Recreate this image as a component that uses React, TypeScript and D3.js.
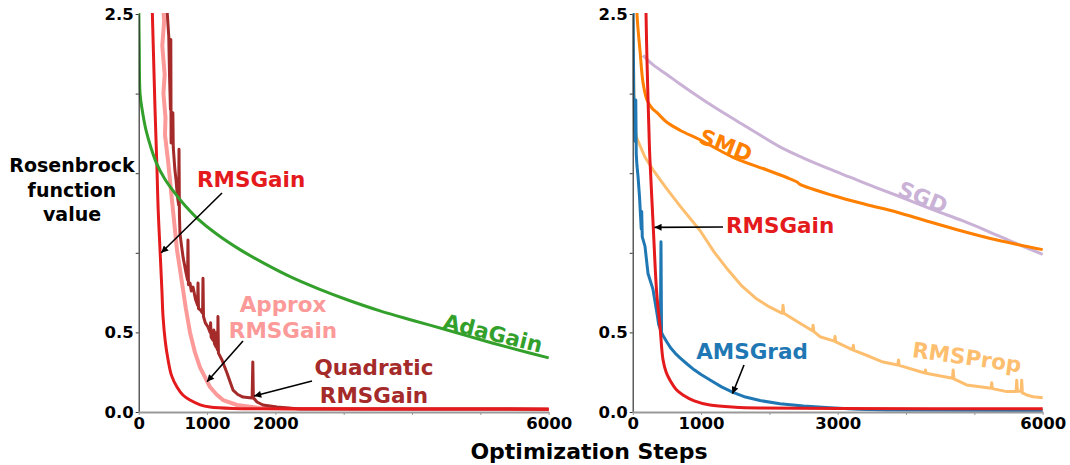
import React, { useEffect, useRef } from 'react';
import * as d3 from 'd3';

type Pt = [number, number];

// ---- Left panel: RMSGain variants vs AdaGain (step, Rosenbrock value) ----
const rmsGainLeft: Pt[] = [
  [160, 3.3], [200, 2.5], [239, 1.9], [268, 1.52], [285, 1.27], [312, 1.02], [340, 0.76],
  [356, 0.6], [390, 0.44], [429, 0.33], [480, 0.23], [560, 0.157], [650, 0.105], [751, 0.075],
  [900, 0.045], [1043, 0.031], [1380, 0.022], [2500, 0.02], [4000, 0.019], [6000, 0.018],
];

const approxRmsGain: Pt[] = [
  [300, 3.4], [340, 2.7], [372, 2.45], [345, 2.3], [380, 2.12], [362, 2.0], [392, 1.85],
  [385, 1.74], [429, 1.58], [487, 1.33], [560, 1.02], [634, 0.81], [690, 0.65], [751, 0.5],
  [820, 0.38], [897, 0.28], [1043, 0.157], [1140, 0.11], [1234, 0.075], [1439, 0.044],
  [1776, 0.025], [2215, 0.02], [6000, 0.018],
];

const quadraticRmsGain: Pt[] = [
  [390, 3.3], [415, 2.525], [440, 2.36], [452, 2.1], [465, 1.9], [470, 2.34], [474, 1.69],
  [488, 1.74], [500, 1.88], [506, 1.66], [530, 1.52], [546, 1.46], [565, 1.36], [585, 1.3],
  [590, 1.65], [596, 1.24], [604, 1.12], [625, 1.05], [650, 0.97], [690, 0.88], [715, 0.83],
  [721, 1.08], [728, 0.8], [751, 0.81], [770, 0.76], [795, 0.785], [830, 0.71], [862, 0.67],
  [868, 0.81], [875, 0.65], [905, 0.64], [935, 0.62], [941, 0.84], [948, 0.6], [975, 0.56],
  [1014, 0.534], [1045, 0.5], [1052, 0.56], [1060, 0.47], [1090, 0.45], [1100, 0.515],
  [1108, 0.43], [1130, 0.41], [1138, 0.5], [1145, 0.4], [1155, 0.39], [1160, 0.6], [1167, 0.37],
  [1219, 0.327], [1292, 0.245], [1380, 0.138], [1450, 0.11], [1527, 0.094], [1660, 0.088],
  [1670, 0.314], [1678, 0.09], [1731, 0.063], [1819, 0.044], [2024, 0.031], [2361, 0.019],
  [6000, 0.018],
];

const adaGain: Pt[] = [
  [0, 2.6], [8, 2.3], [20, 2.0], [50, 1.9], [107, 1.77], [180, 1.66], [263, 1.56], [380, 1.465],
  [502, 1.39], [680, 1.295], [849, 1.22], [1150, 1.115], [1482, 1.02], [1850, 0.93],
  [2240, 0.845], [2650, 0.77], [3050, 0.705], [3532, 0.635], [4015, 0.575], [4513, 0.515],
  [4995, 0.455], [5478, 0.398], [6000, 0.34],
];

// ---- Right panel: RMSGain vs baseline optimizers ----
const rmsGainRight: Pt[] = [
  [160, 3.3], [195, 2.5], [209, 2.21], [246, 1.65], [253, 1.58], [301, 1.16], [351, 0.75],
  [400, 0.535], [443, 0.33], [490, 0.25], [546, 0.2], [640, 0.14], [736, 0.107], [900, 0.07],
  [1131, 0.044], [1500, 0.03], [1863, 0.025], [3000, 0.022], [6000, 0.02],
];

const smd: Pt[] = [
  [30, 3.2], [63, 2.5], [107, 2.27], [151, 2.07], [209, 1.96], [280, 1.91], [356, 1.88],
  [500, 1.82], [692, 1.77], [985, 1.71], [1468, 1.6], [1965, 1.52], [2300, 1.465],
  [2405, 1.445], [2449, 1.43], [2932, 1.36], [3400, 1.305], [3869, 1.255], [4300, 1.2],
  [4747, 1.145], [5332, 1.08], [6000, 1.02],
];

const sgd: Pt[] = [
  [150, 2.24], [300, 2.18], [500, 2.12], [692, 2.06], [1175, 1.92], [1672, 1.79], [2155, 1.665],
  [2500, 1.595], [2887, 1.525], [3180, 1.475], [3500, 1.42], [3868, 1.36], [4400, 1.27],
  [4834, 1.2], [5200, 1.135], [5522, 1.075], [6000, 0.99],
];

const rmsProp: Pt[] = [
  [0, 2.9], [12, 2.2], [25, 1.78], [60, 1.72], [180, 1.6], [300, 1.52], [502, 1.4], [700, 1.29],
  [985, 1.14], [1200, 1.0], [1400, 0.89], [1600, 0.79], [1800, 0.715], [2000, 0.66],
  [2190, 0.62], [2200, 0.67], [2212, 0.62], [2400, 0.57], [2630, 0.51], [2640, 0.545],
  [2652, 0.505], [2741, 0.473], [2950, 0.445], [2961, 0.475], [2972, 0.44], [3220, 0.39],
  [3229, 0.42], [3238, 0.387], [3477, 0.347], [3646, 0.316], [3880, 0.295], [3890, 0.327],
  [3900, 0.293], [4212, 0.253], [4280, 0.245], [4285, 0.264], [4292, 0.243], [4680, 0.212],
  [4690, 0.264], [4700, 0.208], [4887, 0.17], [5082, 0.159], [5245, 0.149], [5254, 0.184],
  [5263, 0.147], [5474, 0.128], [5612, 0.128], [5620, 0.2], [5630, 0.13], [5685, 0.13],
  [5693, 0.2], [5702, 0.12], [5766, 0.107], [5859, 0.096], [6000, 0.09],
];

const amsGrad: Pt[] = [
  [0, 3.0], [8, 2.4], [15, 2.0], [25, 1.85], [35, 1.7], [45, 1.96], [52, 1.62], [62, 1.55],
  [78, 1.48], [100, 1.35], [125, 1.15], [132, 1.26], [140, 1.1], [180, 1.04], [224, 0.87],
  [297, 0.77], [355, 0.62], [380, 0.55], [405, 0.52], [414, 1.07], [422, 0.5], [443, 0.48],
  [500, 0.44], [560, 0.4], [620, 0.37], [692, 0.34], [800, 0.3], [900, 0.265], [1000, 0.235],
  [1175, 0.19], [1300, 0.158], [1468, 0.123], [1650, 0.094], [1863, 0.072], [2155, 0.052],
  [2500, 0.037], [2887, 0.026], [3300, 0.018], [3722, 0.013], [6000, 0.009],
];

// ---- Axis ticks ----
const yTickValues = [0, 0.5, 1, 1.5, 2, 2.5];
const yTickLabels = [0, 0.5, 2.5];
const xTickValues = [0, 1000, 2000, 3000, 4000, 5000, 6000];
const xTickLabelsLeft = [0, 1000, 2000, 6000];
const xTickLabelsRight = [0, 1000, 3000, 6000];

const FONT = '"DejaVu Sans", Verdana, sans-serif';

const C = {
  rmsGain: '#e41a1c',
  approx: '#fb9a99',
  quadratic: '#a52a2a',
  adaGain: '#33a02c',
  smd: '#ff7f00',
  sgd: '#cab2d6',
  rmsProp: '#fdbf6f',
  amsGrad: '#1f78b4',
};

const y = d3.scaleLinear().domain([0, 2.5]).range([412, 14]);
const xLeft = d3.scaleLinear().domain([0, 6000]).range([138.7, 548.7]);
const xRight = d3.scaleLinear().domain([0, 6000]).range([632.7, 1042.7]);

function Axes({ x, labels }: { x: d3.ScaleLinear<number, number>; labels: number[] }) {
  const ref = useRef<SVGGElement>(null);
  useEffect(() => {
    const g = d3.select(ref.current);
    g.selectAll('*').remove();
    const left = g
      .append('g')
      .attr('transform', `translate(${x.range()[0]},0)`)
      .call(
        d3
          .axisLeft(y)
          .tickValues(yTickValues)
          .tickSize(3)
          .tickSizeOuter(0)
          .tickPadding(2)
          .tickFormat((d: any) => (yTickLabels.includes(+d) ? d3.format('.1f')(+d) : ''))
      );
    left.select('.domain').attr('stroke', '#333').attr('stroke-width', 1.2);
    left.selectAll('.tick line').attr('stroke', '#333');
    const bottom = g
      .append('g')
      .attr('transform', `translate(0,${y(0)})`)
      .call(
        d3
          .axisBottom(x)
          .tickValues(xTickValues)
          .tickSize(3)
          .tickSizeOuter(0)
          .tickPadding(2)
          .tickFormat((d: any) => (labels.includes(+d) ? String(d) : ''))
      );
    bottom.select('.domain').attr('stroke', '#999').attr('stroke-width', 2);
    bottom.selectAll('.tick line').attr('stroke', '#999');
    g.selectAll('text')
      .attr('font-family', FONT)
      .attr('font-size', 16.5)
      .attr('font-weight', 'bold')
      .attr('fill', '#000');
  }, [x, labels]);
  return <g ref={ref} />;
}

function Series({
  x, data, color, width = 3, smooth = false, clip,
}: {
  x: d3.ScaleLinear<number, number>; data: Pt[]; color: string; width?: number; smooth?: boolean; clip: string;
}) {
  const line = d3
    .line<Pt>()
    .x((d) => x(d[0]))
    .y((d) => y(d[1]))
    .curve(smooth ? d3.curveCatmullRom.alpha(0.5) : d3.curveLinear);
  return (
    <path
      d={line(data) ?? ''}
      fill="none"
      stroke={color}
      strokeWidth={width}
      strokeLinejoin="round"
      clipPath={`url(#${clip})`}
    />
  );
}

function Arrow({ from, to }: { from: [number, number]; to: [number, number] }) {
  return (
    <line
      x1={from[0]}
      y1={from[1]}
      x2={to[0]}
      y2={to[1]}
      stroke="#000"
      strokeWidth={1.6}
      markerEnd="url(#arrowHead)"
    />
  );
}

function Label({
  x, yPos, text, color, anchor = 'middle', rotate = 0,
}: { x: number; yPos: number; text: string; color: string; anchor?: string; rotate?: number }) {
  if (rotate) {
    return (
      <text
        transform={`translate(${x},${yPos}) rotate(${rotate})`}
        y={21.5 * 0.36}
        textAnchor="middle"
        fill={color}
        fontFamily={FONT}
        fontWeight="bold"
        fontSize={21.5}
      >
        {text}
      </text>
    );
  }
  return (
    <text x={x} y={yPos} textAnchor={anchor as any} fill={color} fontFamily={FONT} fontWeight="bold" fontSize={21.5}>
      {text}
    </text>
  );
}

export default function App() {
  useEffect(() => {
    document.body.style.margin = '0';
  }, []);

  const tipL = (s: number, v: number): [number, number] => [xLeft(s), y(v)];
  const tipR = (s: number, v: number): [number, number] => [xRight(s), y(v)];

  return (
    <svg width={1070} height={465} style={{ display: 'block', background: '#fff' }}>
      <defs>
        <clipPath id="clipLeft">
          <rect x={138.7} y={13} width={412} height={410} />
        </clipPath>
        <clipPath id="clipRight">
          <rect x={632.7} y={13} width={412} height={410} />
        </clipPath>
        <marker
          id="arrowHead"
          viewBox="0 0 10 10"
          refX={10}
          refY={5}
          markerWidth={9}
          markerHeight={7}
          markerUnits="userSpaceOnUse"
          orient="auto"
        >
          <path d="M0,0 L10,5 L0,10 z" fill="#000" />
        </marker>
      </defs>

      {/* left panel curves */}
      <Series x={xLeft} data={approxRmsGain} color={C.approx} width={4} clip="clipLeft" />
      <Series x={xLeft} data={quadraticRmsGain} color={C.quadratic} width={3} clip="clipLeft" />
      <Series x={xLeft} data={rmsGainLeft} color={C.rmsGain} width={3} smooth clip="clipLeft" />
      <Series x={xLeft} data={adaGain} color={C.adaGain} width={3} smooth clip="clipLeft" />

      {/* right panel curves */}
      <Series x={xRight} data={sgd} color={C.sgd} width={3} smooth clip="clipRight" />
      <Series x={xRight} data={smd} color={C.smd} width={3} smooth clip="clipRight" />
      <Series x={xRight} data={rmsProp} color={C.rmsProp} width={3} clip="clipRight" />
      <Series x={xRight} data={amsGrad} color={C.amsGrad} width={3} clip="clipRight" />
      <Series x={xRight} data={rmsGainRight} color={C.rmsGain} width={3} smooth clip="clipRight" />

      <Axes x={xLeft} labels={xTickLabelsLeft} />
      <Axes x={xRight} labels={xTickLabelsRight} />

      {/* left panel annotations */}
      <Label x={197} yPos={187} text="RMSGain" color={C.rmsGain} anchor="start" />
      <Arrow from={[222, 193]} to={tipL(330, 1.0)} />
      <Label x={283} yPos={312} text="Approx" color={C.approx} />
      <Label x={283} yPos={338} text="RMSGain" color={C.approx} />
      <Arrow from={[243, 341]} to={tipL(1000, 0.19)} />
      <Label x={374} yPos={375} text="Quadratic" color={C.quadratic} />
      <Label x={374} yPos={403} text="RMSGain" color={C.quadratic} />
      <Arrow from={[312, 381]} to={tipL(1690, 0.1)} />
      <Label x={493} yPos={333} text="AdaGain" color={C.adaGain} rotate={14} />

      {/* right panel annotations */}
      <Label x={726} yPos={145} text="SMD" color={C.smd} rotate={21} />
      <Label x={923} yPos={197} text="SGD" color={C.sgd} rotate={22} />
      <Label x={726} yPos={233} text="RMSGain" color={C.rmsGain} anchor="start" />
      <Arrow from={[723, 227]} to={tipR(320, 1.16)} />
      <Label x={752} yPos={359} text="AMSGrad" color={C.amsGrad} />
      <Arrow from={[744, 365]} to={tipR(1460, 0.115)} />
      <Label x={967} yPos={357} text="RMSProp" color={C.rmsProp} rotate={8} />

      {/* axis titles */}
      <g fontFamily={FONT} fontWeight="bold" fontSize={19} textAnchor="middle" fill="#000">
        <text x={72} y={172}>Rosenbrock</text>
        <text x={72} y={197}>function</text>
        <text x={72} y={221}>value</text>
      </g>
      <text x={589} y={459} textAnchor="middle" fontFamily={FONT} fontWeight="bold" fontSize={22} fill="#000">
        Optimization Steps
      </text>
    </svg>
  );
}
